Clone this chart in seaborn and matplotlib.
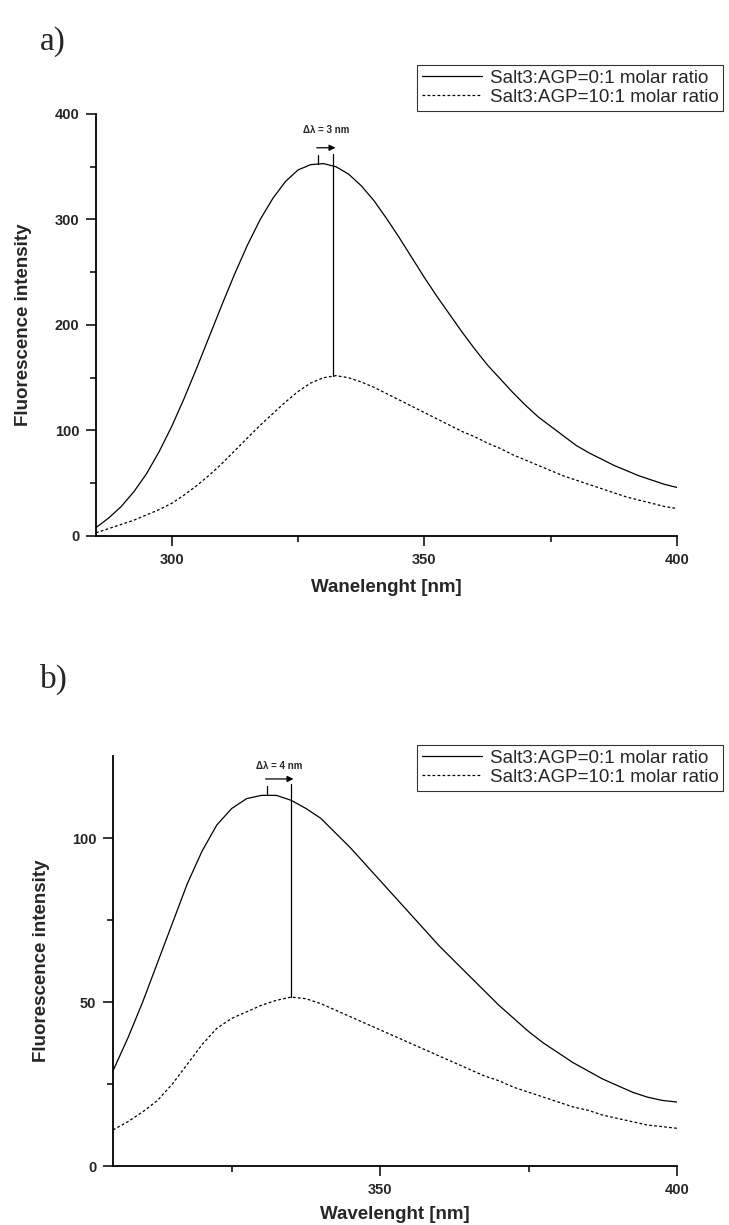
import matplotlib
matplotlib.use("Agg")
import matplotlib.pyplot as plt
import seaborn as sns
import pandas as pd

sns.set_theme(style="ticks")
plt.rcParams['font.family'] = ['Liberation Sans', 'DejaVu Sans']

# ---------------- data ----------------
labels = ["Salt3:AGP=0:1 molar ratio", "Salt3:AGP=10:1 molar ratio"]

wl_a = [285, 287.5, 290, 292.5, 295, 297.5, 300, 302.5, 305, 307.5, 310, 312.5,
        315, 317.5, 320, 322.5, 325, 327.5, 330, 332.5, 335, 337.5, 340, 342.5,
        345, 347.5, 350, 352.5, 355, 357.5, 360, 362.5, 365, 367.5, 370, 372.5,
        375, 377.5, 380, 382.5, 385, 387.5, 390, 392.5, 395, 397.5, 400]
free_a = [8, 17, 28, 42, 59, 80, 104, 131, 160, 190, 220, 249,
          276, 300, 320, 336, 347, 352, 353, 350, 343, 332, 318, 301,
          283, 264, 245, 227, 210, 193, 177, 162, 149, 136, 124, 113,
          104, 95, 86, 79, 73, 67, 62, 57, 53, 49, 46]
bound_a = [3, 7, 11, 15, 20, 25, 31, 39, 48, 58, 69, 81,
           93, 105, 116, 127, 137, 145, 150, 152, 150, 146, 141, 135,
           129, 123, 117, 111, 105, 99, 94, 88, 83, 77, 72, 67,
           62, 57, 53, 49, 45, 41, 37, 34, 31, 28, 26]

wl_b = [305, 307.5, 310, 312.5, 315, 317.5, 320, 322.5, 325, 327.5, 330, 332.5,
        335, 337.5, 340, 342.5, 345, 347.5, 350, 352.5, 355, 357.5, 360, 362.5,
        365, 367.5, 370, 372.5, 375, 377.5, 380, 382.5, 385, 387.5, 390, 392.5,
        395, 397.5, 400]
free_b = [29, 39, 50, 62, 74, 86, 96, 104, 109, 112, 113, 113,
          111.5, 109, 106, 101.5, 97, 92, 87, 82, 77, 72, 67, 62.5,
          58, 53.5, 49, 45, 41, 37.5, 34.5, 31.5, 29, 26.5, 24.5, 22.5,
          21, 20, 19.5]
bound_b = [11, 13.5, 16.5, 20, 25, 31, 37, 42, 45, 47, 49, 50.5,
           51.5, 51, 49.5, 47.5, 45.5, 43.5, 41.5, 39.5, 37.5, 35.5, 33.5, 31.5,
           29.5, 27.5, 26, 24, 22.5, 21, 19.5, 18, 17, 15.5, 14.5, 13.5,
           12.5, 12, 11.5]

shift_a = [329, 332]
shift_b = [331, 335]


def make_df(wl, s1, s2):
    return pd.DataFrame({
        "wl": list(wl) + list(wl),
        "val": list(s1) + list(s2),
        "series": [labels[0]] * len(wl) + [labels[1]] * len(wl),
    })


W, H = 729, 1225
fig = plt.figure(figsize=(W / 100, H / 100), dpi=100)

ax1 = fig.add_axes([96 / W, 1 - 536 / H, 581 / W, 422 / H])
ax2 = fig.add_axes([113 / W, 1 - 1166 / H, 564 / W, 410 / H])

DASH = (2.2, 1.8)
dashes = {labels[0]: "", labels[1]: DASH}


def draw(ax, df, xlim, ylim, xmaj, xmin, ymaj, ymin, xlabel, xpad):
    sns.lineplot(data=df, x="wl", y="val", hue="series", style="series",
                 palette=["black", "black"], dashes=dashes, linewidth=0.9,
                 ax=ax, legend=False, sort=True)
    ax.set_xlim(*xlim)
    ax.set_ylim(*ylim)
    ax.set_xticks(xmaj)
    ax.set_xticks(xmin, minor=True)
    ax.set_yticks(ymaj)
    ax.set_yticks(ymin, minor=True)
    ax.tick_params(which="major", direction="out", length=7, width=1.1,
                   labelsize=10.5, color="black", pad=5)
    ax.tick_params(which="minor", direction="out", length=4, width=1.1,
                   color="black")
    for lab in ax.get_xticklabels() + ax.get_yticklabels():
        lab.set_fontweight("bold")
    sns.despine(ax=ax)
    for s in ["left", "bottom"]:
        ax.spines[s].set_linewidth(1.3)
        ax.spines[s].set_color("black")
    ax.set_xlabel(xlabel, fontsize=13.5, fontweight="bold", labelpad=xpad)
    ax.set_ylabel("Fluorescence intensity", fontsize=13.5, fontweight="bold",
                  labelpad=16)
    ax.set_facecolor("white")


draw(ax1, make_df(wl_a, free_a, bound_a), (285, 400), (0, 400),
     [300, 350, 400], [325, 375], [0, 100, 200, 300, 400], [50, 150, 250, 350],
     "Wanelenght [nm]", 9)
draw(ax2, make_df(wl_b, free_b, bound_b), (305, 400), (0, 125),
     [350, 400], [325, 375], [0, 50, 100], [25, 75],
     "Wavelenght [nm]", 7)


def shift_annot(ax, shift, peak_free, peak_bound, ytop, ytick, yarrow, ytext, text):
    x0, x1 = shift
    ax.plot([x1, x1], [peak_bound, ytop], color="black", lw=0.9)
    ax.plot([x0, x0], [peak_free, ytick], color="black", lw=0.9)
    ax.annotate("", xy=(x1 + 0.4, yarrow), xytext=(x0 - 0.3, yarrow),
                arrowprops=dict(arrowstyle="-|>", color="black", lw=0.9,
                                mutation_scale=9, shrinkA=0, shrinkB=0))
    ax.text((x0 + x1) / 2, ytext, text, ha="center", va="bottom",
            fontsize=7, fontweight="bold")


shift_annot(ax1, shift_a, 353, 152, 362, 361, 368, 380, "\u0394\u03bb = 3 nm")
shift_annot(ax2, shift_b, 113, 51.5, 116.5, 116, 118, 120.5, "\u0394\u03bb = 4 nm")

for (x0, y0, x1, y1) in [(417, 65, 723, 115), (400, 745, 723, 795)]:
    handles = [plt.Line2D([], [], color="black", lw=0.9),
               plt.Line2D([], [], color="black", lw=0.9, linestyle=(0, DASH))]
    leg = fig.legend(handles, labels, loc="upper right",
                     bbox_to_anchor=(x1 / W, 1 - y0 / H),
                     frameon=True, fancybox=False, shadow=False,
                     fontsize=13.5, handlelength=3.2, handletextpad=0.4,
                     borderpad=0.25, labelspacing=0.1, borderaxespad=0)
    leg.get_frame().set_edgecolor("black")
    leg.get_frame().set_linewidth(0.8)

fig.text(40 / W, 1 - 50 / H, "a)", fontsize=24, family="Liberation Serif")
fig.text(40 / W, 1 - 688 / H, "b)", fontsize=24, family="Liberation Serif")

fig.savefig("out.png", dpi=100, facecolor="white")
